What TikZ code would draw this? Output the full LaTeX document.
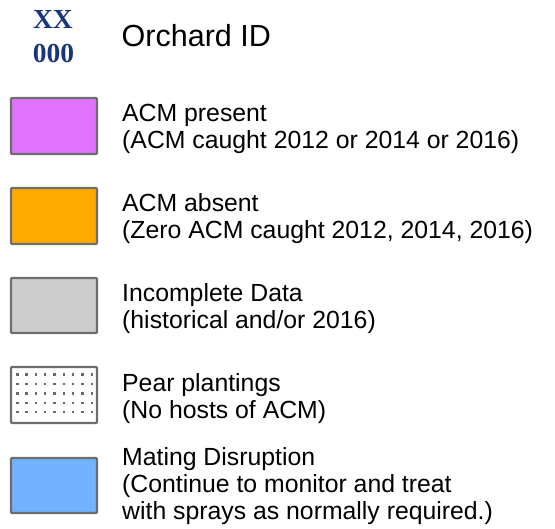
\documentclass[tikz,border=0pt]{standalone}
\usepackage{fontspec}
\setmainfont{Liberation Sans}
\newfontfamily\idfont{Liberation Serif}
\definecolor{edgegray}{HTML}{6E6E6E}
\definecolor{magentafill}{HTML}{DF73FF}
\definecolor{orangefill}{HTML}{FFAA00}
\definecolor{grayfill}{HTML}{CCCCCC}
\definecolor{bluefill}{HTML}{73B2FF}
\definecolor{dotgray}{HTML}{6A6A6A}
\definecolor{idblue}{RGB}{24,54,128}
\tikzset{
  swatch/.style={draw=edgegray, line width=2.4pt, rounded corners=1pt},
  lbl/.style={anchor=base west, inner sep=0pt, font=\fontsize{24.8}{27}\selectfont},
  idtxt/.style={anchor=base, inner sep=0pt, text=idblue, font=\idfont\bfseries\fontsize{27.5}{30}\selectfont},
}
\begin{document}
\begin{tikzpicture}[x=1pt,y=-1pt]
\useasboundingbox (0,0) rectangle (555,529);
% Orchard ID
\node[idtxt] (xx) at (53,29) {XX};
\node[idtxt] (zz) at (53.5,63) {000};
\node[lbl, font=\fontsize{30.5}{33}\selectfont] (oid) at (121.5,46.7) {Orchard ID};
% ACM present
\draw[swatch, fill=magentafill] (11,98) rectangle (97,154);
\node[lbl] (p1) at (122,121.7) {ACM present};
\node[lbl] (p2) at (122,148.3) {(ACM caught 2012 or 2014 or 2016)};
% ACM absent
\draw[swatch, fill=orangefill] (11,188) rectangle (97,244);
\node[lbl] (a1) at (122,211.7) {ACM absent};
\node[lbl] (a2) at (122,238.3) {(Zero ACM caught 2012, 2014, 2016)};
% Incomplete
\draw[swatch, fill=grayfill] (11,278) rectangle (97,333);
\node[lbl] (i1) at (122,301.7) {Incomplete Data};
\node[lbl] (i2) at (122,328.3) {(historical and/or 2016)};
% Pear
\draw[swatch, fill=white] (11,367) rectangle (97,423);
\foreach \r in {0,...,4}{
  \foreach \c in {0,...,8}{
    \fill[dotgray] ({17.3+9.33*\c-1.2},{374.7+9.4*\r-1.2}) rectangle ++(2.4,2.4);
  }
}
\node[lbl] (r1) at (122,391.7) {Pear plantings};
\node[lbl] (r2) at (122,418.3) {(No hosts of ACM)};
% Mating disruption
\draw[swatch, fill=bluefill] (11,458) rectangle (97,513);
\node[lbl] (m1) at (122,465.3) {Mating Disruption};
\node[lbl] (m2) at (122,492.3) {(Continue to monitor and treat};
\node[lbl] (m3) at (122,519.3) {with sprays as normally required.)};
\end{tikzpicture}
\end{document}
